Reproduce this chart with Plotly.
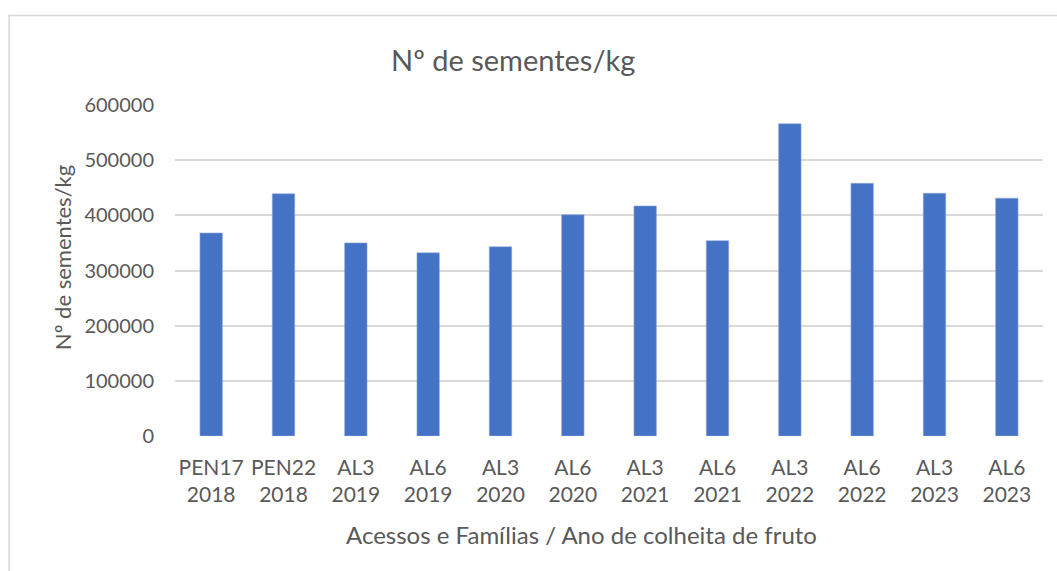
import plotly.graph_objects as go

# categories: accession / family + fruit harvest year
acessos = ["PEN17", "PEN22", "AL3", "AL6", "AL3", "AL6", "AL3", "AL6", "AL3", "AL6", "AL3", "AL6"]
anos = ["2018", "2018", "2019", "2019", "2020", "2020", "2021", "2021", "2022", "2022", "2023", "2023"]
sementes_kg = [368000, 439000, 350000, 332000, 343000, 401000, 417000, 354000, 566000, 458000, 440000, 431000]
y_ticks = [0, 100000, 200000, 300000, 400000, 500000, 600000]

labels = [f"{a}<br>{y}" for a, y in zip(acessos, anos)]
cats = list(range(len(labels)))

W, H = 1057, 571
L, R, T, B = 175, 14, 104.7, 135
pw, ph = W - L - R, H - T - B

grey = "#595959"
font = "Lato, 'Open Sans', sans-serif"

fig = go.Figure()
fig.add_trace(go.Bar(
    x=cats,
    y=sementes_kg,
    marker_color="#4472C4",
    marker_line=dict(color="#8faadc", width=0.6),
    width=0.31,
))

fig.update_layout(
    width=W,
    height=H,
    margin=dict(l=L, r=R, t=T, b=B),
    paper_bgcolor="white",
    plot_bgcolor="white",
    showlegend=False,
    font=dict(family=font, color=grey, size=20),
    xaxis=dict(
        tickmode="array",
        tickvals=cats,
        ticktext=labels,
        range=[-0.5, len(cats) - 0.5],
        showgrid=False,
        zeroline=False,
        showline=False,
        ticks="",
        ticklabelstandoff=17,
        tickfont=dict(size=21, color=grey),
    ),
    yaxis=dict(
        range=[0, 600000],
        tickmode="array",
        tickvals=y_ticks,
        ticktext=[str(v) for v in y_ticks],
        showgrid=True,
        gridcolor="#d9d9d9",
        gridwidth=1.5,
        zeroline=False,
        showline=False,
        ticks="",
        ticklabelstandoff=20,
        tickfont=dict(size=20, color=grey),
    ),
    annotations=[
        dict(text="Nº de sementes/kg", xref="paper", yref="paper",
             x=(513 - L) / pw, y=(H - B - 59) / ph, xanchor="center", yanchor="middle",
             showarrow=False, font=dict(size=29, color=grey)),
        dict(text="Acessos e Famílias / Ano de colheita de fruto", xref="paper", yref="paper",
             x=(581 - L) / pw, y=(H - B - 535) / ph, xanchor="center", yanchor="middle",
             showarrow=False, font=dict(size=24, color=grey)),
        dict(text="Nº de sementes/kg", xref="paper", yref="paper", textangle=-90,
             x=(62 - L) / pw, y=(H - B - 258) / ph, xanchor="center", yanchor="middle",
             showarrow=False, font=dict(size=22, color=grey)),
    ],
    shapes=[
        # chart-area border (cropped on right and bottom in the original)
        dict(type="rect", xref="paper", yref="paper",
             x0=(9 - L) / pw, x1=(W + 20 - L) / pw,
             y0=(H - B - (H + 20)) / ph, y1=(H - B - 15) / ph,
             line=dict(color="#d9d9d9", width=1.5), layer="below"),
    ],
)

fig.write_html("out.html", config={"displayModeBar": False},
               post_script="document.body.style.margin='0';document.body.style.overflow='hidden';")
